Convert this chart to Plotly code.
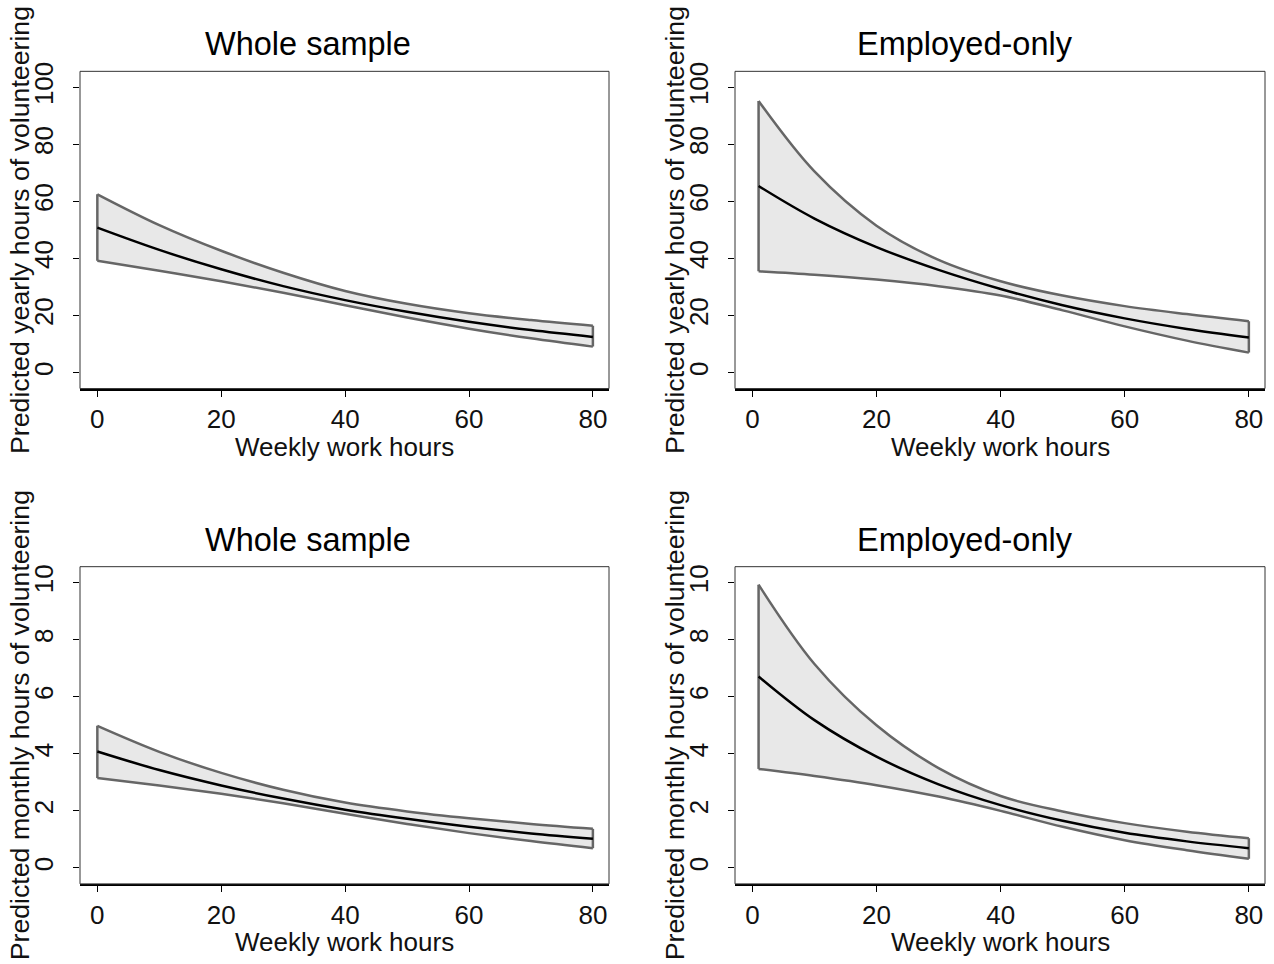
import plotly.graph_objects as go

# ---------------- data ----------------
hours_whole = [0, 10, 20, 30, 40, 50, 60, 70, 80]
hours_emp = [1, 10, 20, 30, 40, 50, 60, 70, 80]

# yearly hours of volunteering
yr_whole_fit = [50.8, 43.0, 36.2, 30.3, 25.4, 21.3, 17.8, 14.9, 12.5]
yr_whole_hi = [62.5, 51.7, 42.7, 35.0, 28.6, 24.1, 20.8, 18.4, 16.4]
yr_whole_lo = [39.2, 35.7, 32.0, 28.0, 23.6, 19.3, 15.4, 12.0, 9.1]

yr_emp_fit = [65.4, 54.0, 44.0, 36.0, 29.3, 23.6, 19.0, 15.3, 12.3]
yr_emp_hi = [95.2, 70.5, 51.5, 39.5, 32.0, 27.0, 23.3, 20.5, 18.0]
yr_emp_lo = [35.5, 34.3, 32.6, 30.3, 27.0, 21.8, 16.2, 11.2, 7.0]

# monthly hours of volunteering
mo_whole_fit = [4.08, 3.43, 2.89, 2.43, 2.04, 1.72, 1.44, 1.21, 1.02]
mo_whole_hi = [4.98, 4.07, 3.33, 2.74, 2.29, 1.98, 1.74, 1.54, 1.37]
mo_whole_lo = [3.15, 2.89, 2.60, 2.27, 1.90, 1.54, 1.22, 0.94, 0.69]

mo_emp_fit = [6.71, 5.18, 3.90, 2.93, 2.20, 1.65, 1.23, 0.93, 0.69]
mo_emp_hi = [9.93, 7.15, 5.00, 3.50, 2.52, 1.98, 1.57, 1.27, 1.04]
mo_emp_lo = [3.47, 3.22, 2.90, 2.50, 2.00, 1.44, 0.97, 0.62, 0.32]

panel_titles = ["Whole sample", "Employed-only", "Whole sample", "Employed-only"]
x_title = "Weekly work hours"
y_titles = ["Predicted yearly hours of volunteering",
            "Predicted monthly hours of volunteering"]
x_ticks = [0, 20, 40, 60, 80]
y_ticks_year = [0, 20, 40, 60, 80, 100]
y_ticks_month = [0, 2, 4, 6, 8, 10]

# ---------------- styling / layout ----------------
W, H = 1274, 964
FONT = "Liberation Sans, Arial, sans-serif"
BAND_FILL = "#e8e8e8"
BAND_LINE = "#666666"

# vertical placement correction (observed offset of the rendered page)
YOFF, YS = 9.7, 0.99


def py(y):
    """target pixel row -> paper fraction"""
    return 1 - ((y - YOFF) / YS) / H


# plot-area pixel boxes (left, right, top, bottom)
boxes = [(80, 609, 72, 389), (735, 1265, 72, 389),
         (80, 609, 567, 884), (735, 1265, 567, 884)]

panels = [
    (hours_whole, yr_whole_fit, yr_whole_hi, yr_whole_lo),
    (hours_emp, yr_emp_fit, yr_emp_hi, yr_emp_lo),
    (hours_whole, mo_whole_fit, mo_whole_hi, mo_whole_lo),
    (hours_emp, mo_emp_fit, mo_emp_hi, mo_emp_lo),
]

fig = go.Figure()
annotations = []
shapes = []

for i, ((xs, fit, hi, lo), box) in enumerate(zip(panels, boxes)):
    n = i + 1
    xa = "x" if n == 1 else f"x{n}"
    ya = "y" if n == 1 else f"y{n}"
    common = dict(xaxis=xa, yaxis=ya, showlegend=False, hoverinfo="skip")
    fig.add_trace(go.Scatter(x=xs, y=lo, mode="lines",
                             line=dict(color=BAND_LINE, width=2.5, shape="spline"),
                             **common))
    fig.add_trace(go.Scatter(x=xs, y=hi, mode="lines", fill="tonexty",
                             fillcolor=BAND_FILL,
                             line=dict(color=BAND_LINE, width=2.5, shape="spline"),
                             **common))
    # closing edges of the band at both ends
    fig.add_trace(go.Scatter(x=[xs[0], xs[0]], y=[lo[0], hi[0]], mode="lines",
                             line=dict(color=BAND_LINE, width=2.5), **common))
    fig.add_trace(go.Scatter(x=[xs[-1], xs[-1]], y=[lo[-1], hi[-1]], mode="lines",
                             line=dict(color=BAND_LINE, width=2.5), **common))
    fig.add_trace(go.Scatter(x=xs, y=fit, mode="lines",
                             line=dict(color="black", width=2.5, shape="spline"),
                             **common))

    l, r, t, b = box
    xdom = [l / W, r / W]
    ydom = [py(b), py(t)]
    yearly = i < 2
    yrange = [-5.6, 105.6] if yearly else [-0.56, 10.56]
    yticks = y_ticks_year if yearly else y_ticks_month
    xkey = "xaxis" if n == 1 else f"xaxis{n}"
    ykey = "yaxis" if n == 1 else f"yaxis{n}"
    fig.update_layout(**{
        xkey: dict(domain=xdom, anchor=ya, range=[-2.8, 82.6],
                   tickvals=x_ticks, ticks="outside", ticklen=6, tickwidth=1,
                   tickcolor="black", showline=True, linewidth=2.5,
                   linecolor="black", mirror=False, showgrid=False,
                   zeroline=False, fixedrange=True,
                   tickfont=dict(family=FONT, size=26, color="#111")),
        ykey: dict(domain=ydom, anchor=xa, range=yrange,
                   tickvals=yticks, ticks="outside", ticklen=6, tickwidth=1,
                   tickcolor="black", showline=False, showgrid=False,
                   zeroline=False, tickangle=-90, fixedrange=True,
                   ticklabelstandoff=10,
                   tickfont=dict(family=FONT, size=26, color="#111")),
    })
    # frame around plot region
    shapes.append(dict(type="rect", xref=f"{xa} domain", yref=f"{ya} domain",
                       x0=0, x1=1, y0=0, y1=1,
                       line=dict(color="#333333", width=1), layer="above"))

    # titles
    cx_title = 308 if i % 2 == 0 else 965
    ty = 45 if i < 2 else 540
    annotations.append(dict(text=panel_titles[i], xref="paper", yref="paper",
                            x=cx_title / W, y=py(ty), showarrow=False,
                            xanchor="center", yanchor="middle",
                            font=dict(family=FONT, size=32.5, color="black")))
    # x-axis title
    annotations.append(dict(text=x_title, xref="paper", yref="paper",
                            x=(l + r) / 2 / W, y=py(b + 58), showarrow=False,
                            xanchor="center", yanchor="middle",
                            font=dict(family=FONT, size=26, color="#111")))
    # y-axis title
    annotations.append(dict(text=y_titles[0 if yearly else 1], xref="paper",
                            yref="paper", x=(l - 60) / W, y=py((t + b) / 2),
                            showarrow=False, textangle=-90,
                            xanchor="center", yanchor="middle",
                            font=dict(family=FONT, size=26.7, color="#111")))

fig.update_layout(
    width=W, height=H,
    margin=dict(l=0, r=0, t=0, b=0),
    paper_bgcolor="white", plot_bgcolor="white",
    annotations=annotations, shapes=shapes,
    showlegend=False,
)

post = ("document.documentElement.style.margin='0';"
        "document.body.style.margin='0';document.body.style.padding='0';"
        "document.body.style.fontSize='0';document.body.style.lineHeight='0';"
        "var d=document.getElementById('{plot_id}');"
        "d.parentNode.style.fontSize='0';d.parentNode.style.lineHeight='0';"
        "d.style.setProperty('position','fixed','important');"
        "d.style.setProperty('left','0px','important');"
        "d.style.setProperty('top','0px','important');"
        "window.scrollTo(0,0);")
fig.write_html("out.html", post_script=post,
               config={"displayModeBar": False, "staticPlot": True})
